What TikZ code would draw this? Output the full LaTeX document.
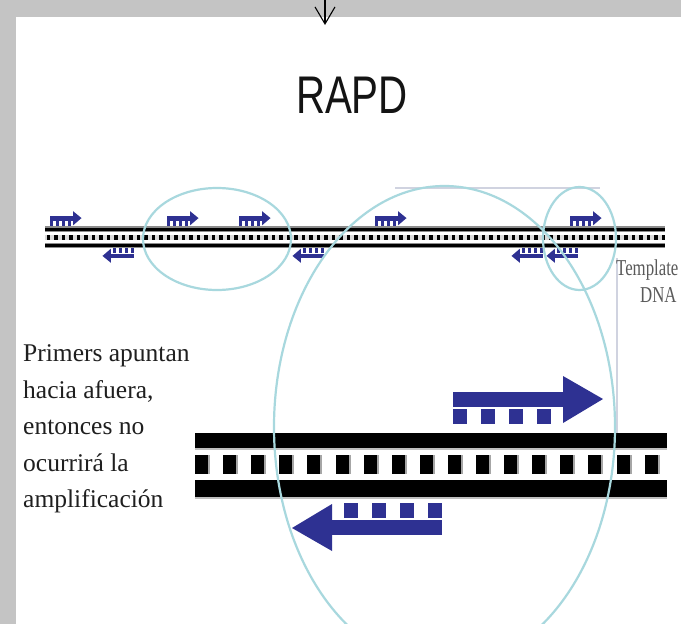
\documentclass[tikz,border=0pt]{standalone}
\usepackage{fontspec}
\setmainfont{Liberation Serif}
\newfontfamily\sansf{Liberation Sans}
\usetikzlibrary{arrows.meta}
\definecolor{bggrey}{RGB}{196,196,196}
\definecolor{primerblue}{RGB}{46,49,146}
\definecolor{ringcyan}{RGB}{168,216,222}
\definecolor{guidegrey}{RGB}{208,211,224}
\definecolor{labelgrey}{RGB}{90,90,90}
\tikzset{
  fwdprimer/.pic={
    \fill[primerblue] (0,0) rectangle (110,15);
    \fill[primerblue] (110,-16) -- (150,7) -- (110,31) -- cycle;
    \foreach \k in {0,28,56,84} \fill[primerblue] (\k,17) rectangle ++(14,15);
  },
  ring/.style={draw=ringcyan, line width=2.2pt},
  guide/.style={draw=guidegrey, line width=1.6pt},
  serifnote/.style={inner sep=0pt, align=left, text=black!88, font=\fontsize{25.5}{36.5}\selectfont},
  tmplabel/.style={inner sep=0pt, anchor=base west, text=labelgrey, xscale=0.74, font=\fontsize{22.7}{26}\selectfont},
}
\begin{document}
\begin{tikzpicture}[x=1pt, y=-1pt]
\useasboundingbox (0,0) rectangle (681,624);
\clip (0,0) rectangle (681,624);
% background
\fill[bggrey] (0,0) rectangle (681,624);
\fill[white] (16,17) rectangle (681,624);
% top arrow
\coordinate (arrtop) at (325,0);
\coordinate (arrtip) at (325,25);
\draw[line width=1.1pt, -{Straight Barb[length=17pt,width=20pt]}] (arrtop) -- (arrtip);
% title
\node[anchor=base, inner sep=0pt, xscale=0.76, text=black!92, font=\sansf\fontsize{53}{60}\selectfont] (title) at (352,113) {RAPD};
% guide lines
\draw[guide] (395,188) -- (600,188);
\draw[guide] (617,258) -- (617,433);
% top strand
\fill[black!45] (45,226) rectangle (665,232);
\fill[black] (45,227.5) rectangle (665,230.8);
\fill[black!45] (45,242.5) rectangle (665,248);
\fill[black] (45,243.5) rectangle (665,246.8);
\fill[black!15] (45,235) rectangle (665,239.5);
\foreach \i in {0,...,82} \fill[black] ({46.5+7.5*\i},234.5) rectangle ++(3.5,5);
% small primers
\foreach \xx in {50,167,239,375,570} \pic[xscale=0.21, yscale=0.3] at (\xx,216) {fwdprimer};
\foreach \xx in {134,324,543,578} \pic[xscale=0.21, yscale=0.3, rotate=180] at (\xx,258) {fwdprimer};
% bottom strand
\fill[black!25] (195,433) rectangle (667,450);
\fill[black] (195,433) rectangle (667,448);
\foreach \i in {0,...,16} {
  \fill[black!35] ({195+28.1*\i},455) rectangle ++(15,19);
  \fill[black] ({195+28.1*\i},455) rectangle ++(13,19);
}
\fill[black!25] (195,480) rectangle (667,499);
\fill[black] (195,480) rectangle (667,497);
% big primers
\pic at (453,392) {fwdprimer};
\pic[rotate=180] at (442,535) {fwdprimer};
% rings
\draw[ring] (217,239) ellipse [x radius=74, y radius=51];
\draw[ring] (444.5,427) ellipse [x radius=170.5, y radius=241];
\draw[ring] (579.5,238.5) ellipse [x radius=36.5, y radius=51.5];
% labels
\node[tmplabel] (tmpl) at (616,275) {Template};
\node[tmplabel] (dna) at (640,302) {DNA};
\node[serifnote, anchor=north west] (note) at (23,344.5) {Primers apuntan\\hacia afuera,\\entonces no\\ocurrirá la\\amplificación};
\end{tikzpicture}
\end{document}
